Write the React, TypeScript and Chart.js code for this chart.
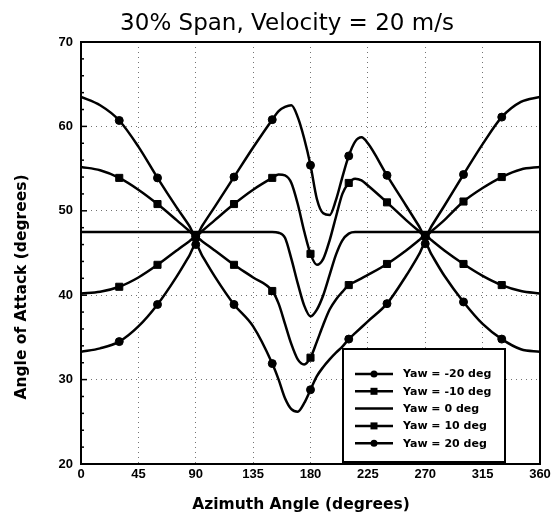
import React, { useEffect, useRef } from "react";
import { Chart, registerables } from "chart.js";

Chart.register(...registerables);

// ---------- data ----------
const azimuth = [
  0, 15, 30, 45, 60, 75, 85, 90, 95, 105, 120, 135, 150, 155, 160, 165, 170, 175, 180,
  185, 190, 195, 200, 205, 210, 215, 220, 225, 240, 255, 265, 270, 275, 285, 300, 315, 330, 345, 360,
];

const yawMinus20 = [
  63.5, 62.5, 60.7, 57.6, 53.9, 50.4, 48.2, 47.0, 48.2, 50.5, 54.0, 57.5, 60.8, 61.8, 62.3, 62.5, 61.1, 58.6, 55.4,
  51.4, 49.7, 49.5, 51.3, 54.0, 56.5, 58.2, 58.7, 58.0, 54.2, 50.6, 48.2, 47.0, 48.2, 50.6, 54.3, 57.9, 61.1, 62.9, 63.5,
];

const yawMinus10 = [
  55.2, 54.8, 53.9, 52.5, 50.8, 48.9, 47.6, 47.0, 47.6, 48.9, 50.8, 52.5, 53.9, 54.3, 54.2, 53.3, 50.8, 47.6, 44.9,
  43.6, 44.3, 46.5, 49.3, 52.0, 53.3, 53.8, 53.6, 53.0, 51.0, 48.9, 47.6, 47.0, 47.6, 48.9, 51.1, 52.7, 54.0, 54.9, 55.2,
];

const yaw0 = [
  47.5, 47.5, 47.5, 47.5, 47.5, 47.5, 47.5, 47.5, 47.5, 47.5, 47.5, 47.5, 47.5, 47.4, 46.8, 44.3, 41.4, 38.8, 37.5,
  38.3, 40.0, 42.4, 44.8, 46.5, 47.3, 47.5, 47.5, 47.5, 47.5, 47.5, 47.5, 47.5, 47.5, 47.5, 47.5, 47.5, 47.5, 47.5, 47.5,
];

const yaw10 = [
  40.2, 40.4, 41.0, 42.1, 43.6, 45.3, 46.4, 46.9, 46.4, 45.3, 43.6, 42.1, 40.5, 39.0, 36.6, 34.2, 32.4, 31.8, 32.6,
  34.5, 36.5, 38.3, 39.5, 40.4, 41.2, 41.6, 42.0, 42.4, 43.7, 45.3, 46.5, 47.1, 46.5, 45.3, 43.7, 42.3, 41.2, 40.5, 40.2,
];

const yaw20 = [
  33.3, 33.7, 34.5, 36.3, 38.9, 42.2, 44.7, 46.0, 44.7, 42.2, 38.9, 36.3, 31.9, 30.0, 27.8, 26.5, 26.2, 27.2, 28.8,
  30.4, 31.5, 32.4, 33.2, 33.9, 34.8, 35.5, 36.2, 36.9, 39.0, 42.3, 44.8, 46.1, 44.8, 42.3, 39.2, 36.6, 34.8, 33.6, 33.3,
];

const seriesLabels = ["Yaw = -20 deg", "Yaw = -10 deg", "Yaw = 0 deg", "Yaw = 10 deg", "Yaw = 20 deg"];
const seriesValues = [yawMinus20, yawMinus10, yaw0, yaw10, yaw20];
const seriesMarkers = ["circle", "rect", "none", "rect", "circle"];

const chartTitle = "30% Span, Velocity = 20 m/s";
const xTitle = "Azimuth Angle (degrees)";
const yTitle = "Angle of Attack (degrees)";
const markerEvery = 30;

const xMin = 0;
const xMax = 360;
const xStep = 45;
const yMin = 20;
const yMax = 70;
const yStep = 10;
const yMinorStep = 2;

// ---------- decorations plugin ----------
const decorPlugin = {
  id: "decor",
  afterDatasetsDraw(chart: any) {
    const { ctx, chartArea: a } = chart;
    const ys = chart.scales.y;
    ctx.save();

    // plot frame
    ctx.strokeStyle = "#000";
    ctx.lineWidth = 2;
    ctx.strokeRect(a.left, a.top, a.right - a.left, a.bottom - a.top);

    // inward y ticks
    ctx.lineWidth = 1.5;
    for (let v = yMin; v <= yMax; v += yMinorStep) {
      const py = ys.getPixelForValue(v);
      const len = v % yStep === 0 ? 6 : 3;
      ctx.beginPath();
      ctx.moveTo(a.left, py);
      ctx.lineTo(a.left + len, py);
      ctx.stroke();
    }

    // titles
    ctx.fillStyle = "#000";
    ctx.textBaseline = "alphabetic";
    ctx.textAlign = "center";
    ctx.font = "23px 'DejaVu Sans'";
    ctx.fillText(chartTitle, 287, 30);

    ctx.font = "bold 15.5px 'DejaVu Sans'";
    ctx.fillText(xTitle, 301, 509);

    ctx.save();
    ctx.translate(26, 287);
    ctx.rotate(-Math.PI / 2);
    ctx.fillText(yTitle, 0, 0);
    ctx.restore();

    // legend
    const bl = a.left + 262;
    const bt = a.top + 307;
    const br = a.left + 424;
    const bb = a.bottom - 2;
    ctx.fillStyle = "#fff";
    ctx.fillRect(bl, bt, br - bl, bb - bt);
    ctx.strokeStyle = "#000";
    ctx.lineWidth = 2;
    ctx.strokeRect(bl, bt, br - bl, bb - bt);

    ctx.font = "bold 11px 'DejaVu Sans'";
    ctx.textAlign = "left";
    ctx.textBaseline = "middle";
    chart.data.datasets.forEach((ds: any, i: number) => {
      const y = bt + 25 + i * 17.3;
      ctx.strokeStyle = "#000";
      ctx.lineWidth = 2.5;
      ctx.beginPath();
      ctx.moveTo(bl + 12, y);
      ctx.lineTo(bl + 50, y);
      ctx.stroke();
      const m = seriesMarkers[i];
      ctx.fillStyle = "#000";
      if (m === "circle") {
        ctx.beginPath();
        ctx.arc(bl + 31, y, 3.5, 0, Math.PI * 2);
        ctx.fill();
      } else if (m === "rect") {
        ctx.fillRect(bl + 27.5, y - 3.5, 7, 7);
      }
      ctx.fillText(ds.label, bl + 60, y + 0.5);
    });

    ctx.restore();
  },
};

export default function App() {
  const canvasRef = useRef<HTMLCanvasElement | null>(null);

  useEffect(() => {
    const canvas = canvasRef.current;
    if (!canvas) return;

    const datasets = seriesValues.map((vals, i) => {
      const marker = seriesMarkers[i];
      return {
        label: seriesLabels[i],
        data: azimuth.map((x, j) => ({ x, y: vals[j] })),
        borderColor: "#000",
        backgroundColor: "#000",
        borderWidth: 2.5,
        fill: false,
        cubicInterpolationMode: "monotone" as const,
        pointStyle: marker === "none" ? "circle" : marker,
        pointBackgroundColor: "#000",
        pointBorderColor: "#000",
        pointBorderWidth: 1,
        pointRadius: (c: any) => {
          if (marker === "none") return 0;
          const az = azimuth[c.dataIndex];
          if (az % markerEvery !== 0 || az === xMin || az === xMax) return 0;
          return marker === "rect" ? 5 : 4;
        },
        pointHoverRadius: 0,
      };
    });

    const chart = new Chart(canvas, {
      type: "line",
      data: { datasets },
      options: {
        responsive: false,
        maintainAspectRatio: false,
        devicePixelRatio: 1,
        animation: false,
        events: [],
        layout: { padding: { top: 42, right: 17, left: 0, bottom: 0 } },
        plugins: {
          legend: { display: false },
          tooltip: { enabled: false },
          title: { display: false },
        },
        scales: {
          x: {
            type: "linear",
            min: xMin,
            max: xMax,
            afterFit: (s: any) => {
              s.height = 61;
            },
            ticks: {
              stepSize: xStep,
              padding: 3,
              color: "#000",
              font: { family: "'Liberation Sans'", weight: "bold", size: 13 },
            },
            grid: {
              color: "rgba(0,0,0,0.55)",
              lineWidth: 1,
              drawTicks: false,
            },
            border: { display: false, dash: [1, 4] },
          },
          y: {
            type: "linear",
            min: yMin,
            max: yMax,
            afterFit: (s: any) => {
              s.width = 81;
            },
            ticks: {
              stepSize: yStep,
              padding: 8,
              color: "#000",
              font: { family: "'Liberation Sans'", weight: "bold", size: 13 },
            },
            grid: {
              color: "rgba(0,0,0,0.55)",
              lineWidth: 1,
              drawTicks: false,
            },
            border: { display: false, dash: [1, 4] },
          },
        },
      },
      plugins: [decorPlugin],
    } as any);

    return () => chart.destroy();
  }, []);

  return (
    <div style={{ position: "fixed", left: 0, top: 0, width: 557, height: 525, background: "#fff" }}>
      <canvas ref={canvasRef} width={557} height={525} style={{ display: "block", width: 557, height: 525 }} />
    </div>
  );
}
